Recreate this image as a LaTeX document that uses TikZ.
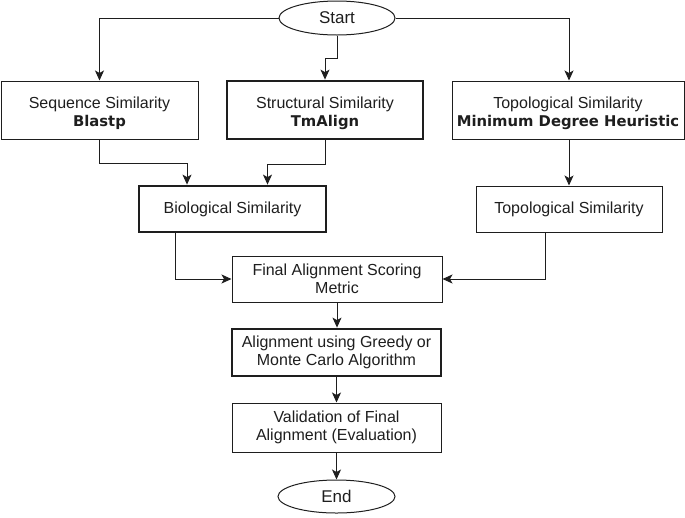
\documentclass[tikz,border=0pt]{standalone}
\usepackage{fontspec}
\setmainfont{Liberation Sans}
\newfontfamily\dvfont{DejaVu Sans}
\usetikzlibrary{shapes.geometric,arrows.meta}
\definecolor{ink}{RGB}{30,30,30}
\tikzset{
  box/.style={draw=ink, line width=1pt, rectangle, align=center, text=ink,
    inner sep=0pt, font=\fontsize{16}{18}\selectfont},
  thickbox/.style={box, line width=2.8pt},
  boxtext/.style={align=center, text=ink, font=\fontsize{16}{18}\selectfont, yshift=-3pt},
  oval/.style={draw=ink, line width=1pt, ellipse, inner sep=0pt, text=ink,
    font=\fontsize{17}{19}\selectfont},
  arr/.style={draw=ink, line width=1pt, -{Stealth[length=10pt,width=9pt,inset=2.5pt]}},
}
\newcommand{\bt}[1]{{\dvfont\bfseries\fontsize{14.8}{18}\selectfont #1}}
\begin{document}
\begin{tikzpicture}[x=1pt,y=-1pt]
\useasboundingbox (0,0) rectangle (685,517);
\node[oval, minimum width=116pt, minimum height=34pt] (start) at (337,18) {Start};
\node[box, minimum width=197pt, minimum height=58pt,
  label={[boxtext]center:Sequence Similarity\\\bt{Blastp}}] (seq) at (99.5,110) {};
\node[thickbox, minimum width=196pt, minimum height=58pt,
  label={[boxtext]center:Structural Similarity\\\bt{TmAlign}}] (struct) at (325,110) {};
\node[box, minimum width=232pt, minimum height=58pt,
  label={[boxtext]center:Topological Similarity\\\bt{Minimum Degree Heuristic}}] (topo) at (568,110) {};
\node[thickbox, minimum width=187pt, minimum height=46pt] (bio) at (232.5,209) {Biological Similarity};
\node[box, minimum width=186pt, minimum height=46pt] (topo2) at (569,209) {Topological Similarity};
\node[box, minimum width=210pt, minimum height=46pt] (final) at (337,279) {Final Alignment Scoring\\Metric};
\node[thickbox, minimum width=209pt, minimum height=47pt] (align) at (336.5,352.5) {Alignment using Greedy or\\Monte Carlo Algorithm};
\node[box, minimum width=209pt, minimum height=49pt] (valid) at (336.5,427.5) {Validation of Final\\Alignment (Evaluation)};
\node[oval, minimum width=117pt, minimum height=33pt] (end) at (336.5,496.5) {End};

\draw[arr] (start.west) -| (seq.north);
\draw[arr] (start.east) -| ([xshift=1pt]topo.north);
\draw[arr] (start.south) -- ++(0,23) -| (struct.north);
\draw[arr] (seq.south) -- ++(0,24) -| ([xshift=-45.5pt]bio.north);
\draw[arr] (struct.south) -- ++(0,24) -| ([xshift=35pt]bio.north);
\draw[arr] (topo2.north |- topo.south) -- (topo2.north);
\draw[arr] ([xshift=-57.5pt]bio.south) |- (final.west);
\draw[arr] ([xshift=-24pt]topo2.south) |- (final.east);
\draw[arr] (final.south) -- (final.south |- align.north);
\draw[arr] (align.south) -- (valid.north);
\draw[arr] (valid.south) -- (end.north);
\end{tikzpicture}
\end{document}
